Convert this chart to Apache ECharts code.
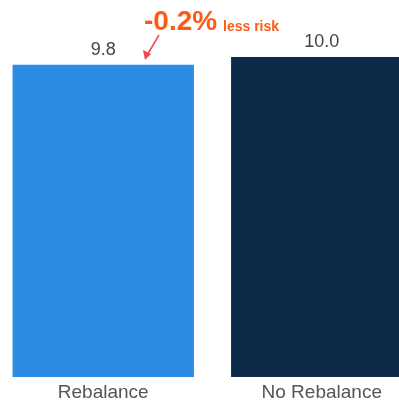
<!DOCTYPE html>
<html><head><meta charset="utf-8">
<script src="https://cdn.jsdelivr.net/npm/echarts@6/dist/echarts.min.js"></script>
<style>html,body{margin:0;padding:0;background:#fff;overflow:hidden;width:399px;height:402px}#c{width:437px;height:402px;margin-left:-6px}</style>
</head><body><div id="c"></div>
<script>
var categories = ['Rebalance', 'No Rebalance'];
var values = [9.76, 10.0];
var barColors = ['#2a8de3', '#0b2a47'];
var annotationMain = '-0.2%';
var annotationSub = 'less risk';

var chart = echarts.init(document.getElementById('c'));
chart.setOption({
  animation: false,
  textStyle: { fontFamily: 'Liberation Sans, Arial, sans-serif' },
  grid: { left: 0, right: 0, top: 57, bottom: 25, containLabel: false },
  xAxis: {
    type: 'category', data: categories,
    axisLine: { show: false }, axisTick: { show: false },
    axisLabel: { color: '#555', fontSize: 19, margin: 6, interval: 0 }
  },
  yAxis: { type: 'value', min: 0, max: 10, show: false, splitLine: { show: false } },
  series: [{
    type: 'bar', barWidth: '83%',
    data: values.map(function (v, i) { return { value: v, itemStyle: { color: barColors[i] } }; }),
    label: {
      show: true, position: 'top', distance: 6, color: '#444', fontSize: 18,
      formatter: function (p) { return p.value.toFixed(1); }
    }
  }],
  graphic: [
    { type: 'text', left: 150, top: 8, style: { text: annotationMain, fill: '#ff5a14', font: 'bold 28px Liberation Sans, Arial, sans-serif' } },
    { type: 'text', left: 229, top: 20, style: { text: annotationSub, fill: '#ff5a14', font: 'bold 14px Liberation Sans, Arial, sans-serif' } },
    { type: 'line', shape: { x1: 165, y1: 35, x2: 152, y2: 57 }, style: { stroke: '#f04848', lineWidth: 1.5 } },
    { type: 'polygon', shape: { points: [[151, 60], [149, 50], [157, 54]] }, style: { fill: '#f04848' } }
  ]
});
</script></body></html>
